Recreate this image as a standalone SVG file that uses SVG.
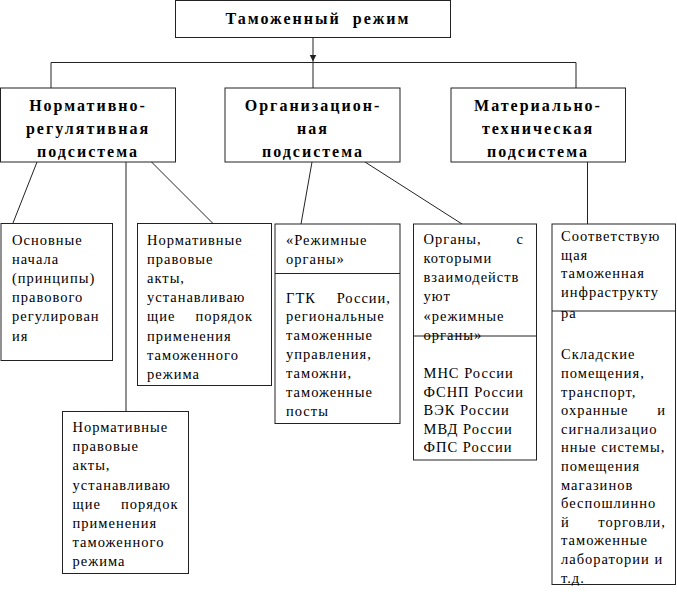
<svg xmlns="http://www.w3.org/2000/svg" width="677" height="592" viewBox="0 0 677 592">
<style>
.box{fill:#fff;stroke:#222;stroke-width:1}
.ln{stroke:#222;stroke-width:1;fill:none}
.h{font-weight:bold;font-size:16px;letter-spacing:2px;fill:#000;text-anchor:middle}
.t{font-size:14.5px;letter-spacing:1px;fill:#000}
.r{text-anchor:end}
</style>
<defs>
<marker id="ah" markerWidth="8" markerHeight="8" refX="7" refY="4" orient="auto" markerUnits="userSpaceOnUse">
<path d="M0,0.5 L7,4 L0,7.5 Z" fill="#222"/>
</marker>
</defs>
<g id="connectors">
<line class="ln" x1="313" y1="37.5" x2="313" y2="61.5" marker-end="url(#ah)"/>
<line class="ln" x1="313" y1="61.5" x2="313" y2="88"/>
<polyline class="ln" points="51,88 51,62.5 576,62.5 576,88"/>
<line class="ln" x1="37" y1="162" x2="13" y2="223"/>
<line class="ln" x1="126" y1="162" x2="126" y2="411.5"/>
<line class="ln" x1="151.5" y1="162" x2="212.5" y2="223"/>
<line class="ln" x1="312" y1="162" x2="301" y2="224"/>
<line class="ln" x1="365" y1="162" x2="462" y2="224"/>
<line class="ln" x1="587.5" y1="162" x2="587.5" y2="224"/>
</g>
<g font-family="'Liberation Serif', 'Times New Roman', serif">
<g id="root">
<rect class="box" x="175.5" y="0.5" width="275" height="37"/>
<text class="h" x="318" y="24" xml:space="preserve">Таможенный  режим</text>
</g>
<g id="norm">
<rect class="box" x="0.5" y="88" width="175" height="74"/>
<text class="h" x="88" y="111">Нормативно-</text>
<text class="h" x="88" y="134">регулятивная</text>
<text class="h" x="88" y="156.5">подсистема</text>
</g>
<g id="org">
<rect class="box" x="225" y="88" width="175" height="74"/>
<text class="h" x="313" y="111">Организацион-</text>
<text class="h" x="313" y="134">ная</text>
<text class="h" x="313" y="156.5">подсистема</text>
</g>
<g id="mat">
<rect class="box" x="451" y="88" width="174.5" height="74"/>
<text class="h" x="538" y="111">Материально-</text>
<text class="h" x="538" y="134">техническая</text>
<text class="h" x="538" y="156.5">подсистема</text>
</g>
<g id="principles">
<rect class="box" x="1" y="223.5" width="111.5" height="137"/>
<text class="t" x="12" y="244.5">Основные</text>
<text class="t" x="12" y="263.7">начала</text>
<text class="t" x="12" y="282.9">(принципы)</text>
<text class="t" x="12" y="302.1">правового</text>
<text class="t" x="12" y="321.3">регулирован</text>
<text class="t" x="12" y="340.5">ия</text>
</g>
<g id="acts1">
<rect class="box" x="137.5" y="223.5" width="134" height="162"/>
<text class="t" x="147" y="244.5">Нормативные</text>
<text class="t" x="147" y="263.7">правовые</text>
<text class="t" x="147" y="282.9">акты,</text>
<text class="t" x="147" y="302.1">устанавливаю</text>
<text class="t" x="147" y="321.3">щие</text><text class="t r" x="253" y="321.3">порядок</text>
<text class="t" x="147" y="340.5">применения</text>
<text class="t" x="147" y="359.7">таможенного</text>
<text class="t" x="147" y="378.9">режима</text>
</g>
<g id="acts2">
<rect class="box" x="62.5" y="411.5" width="126" height="162"/>
<text class="t" x="72.5" y="432">Нормативные</text>
<text class="t" x="72.5" y="451.2">правовые</text>
<text class="t" x="72.5" y="470.4">акты,</text>
<text class="t" x="72.5" y="489.6">устанавливаю</text>
<text class="t" x="72.5" y="508.8">щие</text><text class="t r" x="178.5" y="508.8">порядок</text>
<text class="t" x="72.5" y="528">применения</text>
<text class="t" x="72.5" y="547.2">таможенного</text>
<text class="t" x="72.5" y="566.4">режима</text>
</g>
<g id="regime">
<rect class="box" x="275" y="224" width="125" height="199.5"/>
<line class="ln" x1="275" y1="273.5" x2="400" y2="273.5"/>
<text class="t" x="286" y="245">«Режимные</text>
<text class="t" x="286" y="264">органы»</text>
<text class="t" x="286" y="302.5">ГТК</text><text class="t r" x="391" y="302.5">России,</text>
<text class="t" x="286" y="321.4">региональные</text>
<text class="t" x="286" y="340.3">таможенные</text>
<text class="t" x="286" y="359.2">управления,</text>
<text class="t" x="286" y="378.1">таможни,</text>
<text class="t" x="286" y="397">таможенные</text>
<text class="t" x="286" y="415.9">посты</text>
</g>
<g id="partners">
<rect class="box" x="413.5" y="224" width="123" height="236"/>
<line class="ln" x1="413.5" y1="336" x2="536.5" y2="336"/>
<text class="t" x="423.5" y="243.5">Органы,</text><text class="t r" x="524" y="243.5">с</text>
<text class="t" x="423.5" y="262.8">которыми</text>
<text class="t" x="423.5" y="282.1">взаимодейств</text>
<text class="t" x="423.5" y="301.4">уют</text>
<text class="t" x="423.5" y="320.7">«режимные</text>
<text class="t" x="423.5" y="340">органы»</text>
<text class="t" x="423.5" y="378">МНС России</text>
<text class="t" x="423.5" y="396.5">ФСНП России</text>
<text class="t" x="423.5" y="415">ВЭК России</text>
<text class="t" x="423.5" y="433.5">МВД России</text>
<text class="t" x="423.5" y="452">ФПС России</text>
</g>
<g id="infra">
<rect class="box" x="552" y="224" width="123.5" height="360.5"/>
<line class="ln" x1="552" y1="311" x2="675.5" y2="311"/>
<text class="t" x="561" y="241">Соответствую</text>
<text class="t" x="561" y="259.7">щая</text>
<text class="t" x="561" y="278.4">таможенная</text>
<text class="t" x="561" y="297.1">инфраструкту</text>
<text class="t" x="561" y="318">ра</text>
<text class="t" x="561" y="359.3">Складские</text>
<text class="t" x="561" y="377.9">помещения,</text>
<text class="t" x="561" y="396.5">транспорт,</text>
<text class="t" x="561" y="415.1">охранные</text><text class="t r" x="666" y="415.1">и</text>
<text class="t" x="561" y="433.7">сигнализацио</text>
<text class="t" x="561" y="452.3">нные системы,</text>
<text class="t" x="561" y="470.9">помещения</text>
<text class="t" x="561" y="489.5">магазинов</text>
<text class="t" x="561" y="508.1">беспошлинно</text>
<text class="t" x="561" y="526.7">й</text><text class="t r" x="666" y="526.7">торговли,</text>
<text class="t" x="561" y="545.3">таможенные</text>
<text class="t" x="561" y="563.9">лаборатории и</text>
<text class="t" x="561" y="582.5">т.д.</text>
</g>
</g>
</svg>
